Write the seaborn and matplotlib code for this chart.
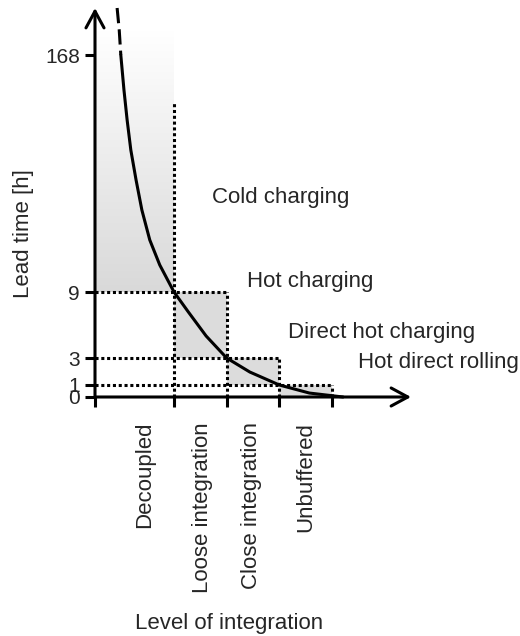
import numpy as np
import pandas as pd
import matplotlib
matplotlib.use('Agg')
import matplotlib.pyplot as plt
import seaborn as sns
from matplotlib.patches import Rectangle
from matplotlib.colors import LinearSegmentedColormap

# zones along the level-of-integration axis
zone_edges = [0, 1.5, 2.5, 3.5, 4.5]
zone_names = ['Decoupled', 'Loose integration', 'Close integration', 'Unbuffered']
# lead time [h] ticks and the box limits in each zone
lead_ticks = [0, 1, 3, 9, 168]
box_low = [9, 3, 1, 0]
box_high = [None, 9, 3, 1]
cut_top = 136  # top of the dotted line between decoupled / loose
charging_modes = ['Cold charging', 'Hot charging', 'Direct hot charging', 'Hot direct rolling']

# lead time curve
curve_x = [0.42, 0.46, 0.49, 0.55, 0.61, 0.68, 0.78, 0.89, 1.04, 1.23, 1.5,
           1.77, 2.11, 2.5, 2.94, 3.5, 4.07, 4.71]
curve_h = [356, 268, 168, 144.5, 124.4, 104.3, 84.1, 64, 43.9, 27.1, 9,
           7.2, 5.0, 3, 1.96, 1, 0.33, 0]

# y axis is not linear: piecewise mapping of lead time to height
knot_val = [0, 1, 3, 9, 168, 400]
knot_pos = [0, 12, 39, 105, 342, 400]
def fwd(v):
    return np.interp(v, knot_val, knot_pos)
def inv(p):
    return np.interp(p, knot_pos, knot_val)

W, H = 520, 636
def fx(px):
    return px / W
def fy(py):
    return 1 - py / H

sns.set_theme(style='white')
plt.rcParams['font.family'] = ['Liberation Sans', 'DejaVu Sans']

fig = plt.figure(figsize=(W / 100, H / 100), dpi=100)
ax = fig.add_axes([fx(95), fy(397), 316 / W, 389 / H])
ax.set_yscale('function', functions=(fwd, inv))
ax.set_xlim(0, 6)
ax.set_ylim(0, 356)
for s in ax.spines.values():
    s.set_visible(False)

grey = '#dcdcdc'
# shaded boxes
for i in range(1, 4):
    ax.fill_between([zone_edges[i], zone_edges[i + 1]], box_low[i], box_high[i],
                    color=grey, lw=0, zorder=1)

# gradient above 9 h for the decoupled zone
y0 = ax.transAxes.inverted().transform(ax.transData.transform((0, box_low[0])))[1]
y1 = ax.transAxes.inverted().transform(ax.transData.transform((0, 268)))[1]
x1 = zone_edges[1] / 6
cmap = LinearSegmentedColormap.from_list('g', ['#d9d9d9', '#ffffff'])
grad = np.linspace(0, 1, 256).reshape(-1, 1)
im = ax.imshow(grad, cmap=cmap, origin='lower', aspect='auto',
               extent=(0, x1, y0, y1), transform=ax.transAxes, zorder=0)
clip = Rectangle((0, box_low[0]), zone_edges[1], 400, transform=ax.transData)
im.set_clip_path(clip)
ax.set_xlim(0, 6)
ax.set_ylim(0, 356)

# dotted guide lines
dot = dict(color='black', lw=2.2, linestyle=(0, (1, 0.9)), zorder=3)
for i, lvl in enumerate([9, 3, 1]):
    ax.plot([0, zone_edges[i + 2]], [lvl, lvl], **dot)
ax.plot([zone_edges[1]] * 2, [0, cut_top], **dot)
for i, lvl in enumerate([9, 3, 1]):
    ax.plot([zone_edges[i + 2]] * 2, [0, lvl], **dot)

# curve
df = pd.DataFrame({'x': curve_x, 'h': curve_h})
sns.lineplot(data=df[df.h >= 168], x='x', y='h', color='black', lw=2.2,
             linestyle=(0, (5, 2)), ax=ax, zorder=4, clip_on=False)
sns.lineplot(data=df[df.h <= 168], x='x', y='h', color='black', lw=2.2,
             ax=ax, zorder=4, clip_on=False)
ax.set_xlim(0, 6)
ax.set_ylim(0, 356)

# ticks
ax.set_yticks(lead_ticks)
ax.set_yticklabels([str(t) for t in lead_ticks], fontsize=15)
ax.set_xticks(zone_edges)
ax.set_xticklabels([])
ax.tick_params(axis='both', direction='out', length=7.2, width=2.2, color='black',
               left=True, bottom=True, pad=3.6)
ax.set_xlabel('')
ax.set_ylabel('')

# axis arrows
arrow = dict(arrowstyle='->,head_length=1.2,head_width=0.65', lw=2.2, color='black',
             shrinkA=0, shrinkB=0, mutation_scale=10)
ax.annotate('', xy=(0, 1), xytext=(0, 0), xycoords='axes fraction', arrowprops=arrow)
ax.annotate('', xy=(1, 0), xytext=(0, 0), xycoords='axes fraction', arrowprops=arrow)

# zone names
label_x = [0.95, 2.05, 2.97, 4.0]
for name, lx in zip(zone_names, label_x):
    ax.text(lx, -25 / 389, name, transform=ax.get_xaxis_transform(), rotation=90,
            ha='center', va='top', fontsize=16)

# charging modes
mode_pos = [(212, 203), (247, 287), (288, 338), (358, 368)]
for txt, (px, py) in zip(charging_modes, mode_pos):
    fig.text(fx(px), fy(py), txt, ha='left', va='baseline', fontsize=16)

fig.text(fx(229), fy(629), 'Level of integration', ha='center', va='baseline', fontsize=16)
fig.text(fx(23), fy(234), 'Lead time [h]', ha='center', va='center', rotation=90, fontsize=16)

fig.savefig('out.png', dpi=100)
